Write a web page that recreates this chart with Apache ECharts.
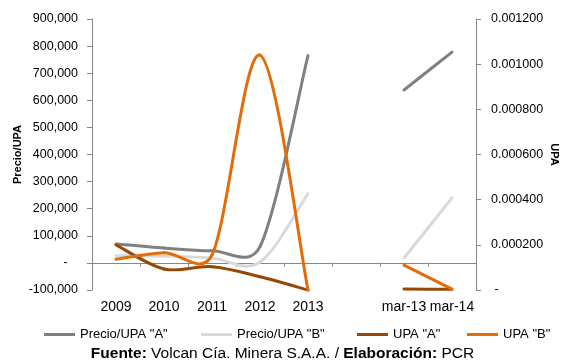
<!DOCTYPE html>
<html>
<head>
<meta charset="utf-8">
<script src="https://cdn.jsdelivr.net/npm/echarts@6/dist/echarts.min.js"></script>
<style>
  html, body { margin: 0; padding: 0; background: #ffffff; }
  #chart { width: 565px; height: 363px; }
</style>
</head>
<body>
<div id="chart"></div>
<script>
// Categories: yearly points, a spacer slot, then the quarterly points
const categories = ['2009', '2010', '2011', '2012', '2013', '', 'mar-13', 'mar-14'];

// Price / earnings-per-share ratio (left axis)
const precioA = [70000, 55000, 45000, 60000, 765000, null, 638000, 778000];
const precioB = [26000, 25000, 18000, 3000, 256000, null, 18000, 240000];

// Earnings per share (right axis)
const upaA = [0.000200, 0.000093, 0.000103, 0.000059, 0, null, 0.000004, 0.000003];
const upaB = [0.000136, 0.000165, 0.000155, 0.001040, 0, null, 0.000110, 0.000004];

// Axis tick settings
const leftMin = -100000, leftMax = 900000, leftStep = 100000;
const rightMin = 0, rightMax = 0.0012, rightStep = 0.0002;

const FONT = '"Liberation Sans", Arial, Helvetica, sans-serif';
const AXIS_GREY = '#868686';

const chart = echarts.init(document.getElementById('chart'), null, { renderer: 'canvas' });

function legendAt(name, left) {
  return {
    data: [name],
    left: left,
    top: 323,
    icon: 'rect',
    itemWidth: 31,
    itemHeight: 3,
    selectedMode: false,
    textStyle: { fontSize: 13, color: '#000', fontFamily: FONT }
  };
}

function dist(a, b) {
  return Math.hypot(b[0] - a[0], b[1] - a[1]);
}

// Smoothed line drawn as cubic Bezier segments with Catmull-Rom style tangents
// (tension 1/6, each control arm limited to half of its segment's length),
// one segment per data item, split wherever a value is missing.
function smoothSeries(name, values, axis, color) {
  const TENSION = 1 / 6;
  return {
    name: name,
    type: 'custom',
    coordinateSystem: 'cartesian2d',
    yAxisIndex: axis,
    color: color,
    itemStyle: { color: color },
    clip: false,
    data: values.map((v, i) => [i, v]),
    encode: { x: 0, y: 1 },
    renderItem: function (params, api) {
      const i = params.dataIndex;
      if (values[i] == null || i + 1 >= values.length || values[i + 1] == null) {
        return;
      }
      const pt = k => api.coord([k, values[k]]);
      const prevIdx = (i - 1 >= 0 && values[i - 1] != null) ? i - 1 : i;
      const nextIdx = (i + 2 < values.length && values[i + 2] != null) ? i + 2 : i + 1;
      const p0 = pt(prevIdx), p1 = pt(i), p2 = pt(i + 1), p3 = pt(nextIdx);
      const d12 = dist(p1, p2), d02 = dist(p0, p2), d13 = dist(p1, p3);
      const f1 = d02 > 0 ? Math.min(TENSION, d12 / (2 * d02)) : 0;
      const f2 = d13 > 0 ? Math.min(TENSION, d12 / (2 * d13)) : 0;
      return {
        type: 'bezierCurve',
        shape: {
          x1: p1[0], y1: p1[1],
          x2: p2[0], y2: p2[1],
          cpx1: p1[0] + (p2[0] - p0[0]) * f1,
          cpy1: p1[1] + (p2[1] - p0[1]) * f1,
          cpx2: p2[0] - (p3[0] - p1[0]) * f2,
          cpy2: p2[1] - (p3[1] - p1[1]) * f2
        },
        style: { stroke: color, fill: null, lineWidth: 3, lineCap: 'round', lineJoin: 'round' },
        silent: true
      };
    }
  };
}

chart.setOption({
  animation: false,
  backgroundColor: '#ffffff',
  textStyle: { fontFamily: FONT },
  title: {
    text: '{b|Fuente:} Volcan Cía. Minera S.A.A. / {b|Elaboración:} PCR',
    left: 'center',
    top: 341,
    textStyle: {
      fontSize: 15.5, fontWeight: 'normal', color: '#000', fontFamily: FONT,
      rich: { b: { fontSize: 15.5, fontWeight: 'bold', color: '#000', fontFamily: FONT } }
    }
  },
  legend: [
    legendAt('Precio/UPA "A"', 39),
    legendAt('Precio/UPA "B"', 196),
    legendAt('UPA "A"', 352),
    legendAt('UPA "B"', 462)
  ],
  grid: { left: 92, right: 89, top: 19, bottom: 73, containLabel: false, outerBoundsMode: 'none' },
  xAxis: {
    type: 'category',
    data: categories,
    boundaryGap: true,
    axisLine: { onZero: true, onZeroAxisIndex: 0, lineStyle: { color: AXIS_GREY, width: 1 } },
    axisTick: { show: true, length: 4, interval: 0, alignWithLabel: false, lineStyle: { color: AXIS_GREY } },
    axisLabel: { margin: 10, fontSize: 14, color: '#000', interval: 0, fontFamily: FONT },
    splitLine: { show: false }
  },
  yAxis: [
    {
      type: 'value',
      position: 'left',
      min: leftMin, max: leftMax, interval: leftStep,
      name: 'Precio/UPA',
      nameLocation: 'middle',
      nameGap: 69,
      nameRotate: 90,
      nameMoveOverlap: false,
      nameTextStyle: { fontSize: 11, fontWeight: 'bold', color: '#000', fontFamily: FONT },
      axisLine: { show: true, onZero: false, lineStyle: { color: AXIS_GREY } },
      axisTick: { show: true, length: 5, lineStyle: { color: AXIS_GREY } },
      splitLine: { show: false },
      axisLabel: {
        margin: 14, fontSize: 12.5, color: '#000', fontFamily: FONT,
        formatter: v => v === 0 ? '-   ' : v.toLocaleString('en-US')
      }
    },
    {
      type: 'value',
      position: 'right',
      min: rightMin, max: rightMax, interval: rightStep,
      name: 'UPA',
      nameLocation: 'middle',
      nameGap: 73,
      nameRotate: -90,
      nameMoveOverlap: false,
      nameTextStyle: { fontSize: 11, fontWeight: 'bold', color: '#000', fontFamily: FONT },
      axisLine: { show: true, onZero: false, lineStyle: { color: AXIS_GREY } },
      axisTick: { show: true, length: 5, lineStyle: { color: AXIS_GREY } },
      splitLine: { show: false },
      axisLabel: {
        margin: 15, fontSize: 12.5, color: '#000', fontFamily: FONT,
        formatter: v => Math.abs(v) < 1e-12 ? ' -' : v.toFixed(6)
      }
    }
  ],
  series: [
    smoothSeries('Precio/UPA "A"', precioA, 0, '#808080'),
    smoothSeries('Precio/UPA "B"', precioB, 0, '#D9D9D9'),
    smoothSeries('UPA "A"', upaA, 1, '#974706'),
    smoothSeries('UPA "B"', upaB, 1, '#E36C09')
  ]
});
</script>
</body>
</html>
